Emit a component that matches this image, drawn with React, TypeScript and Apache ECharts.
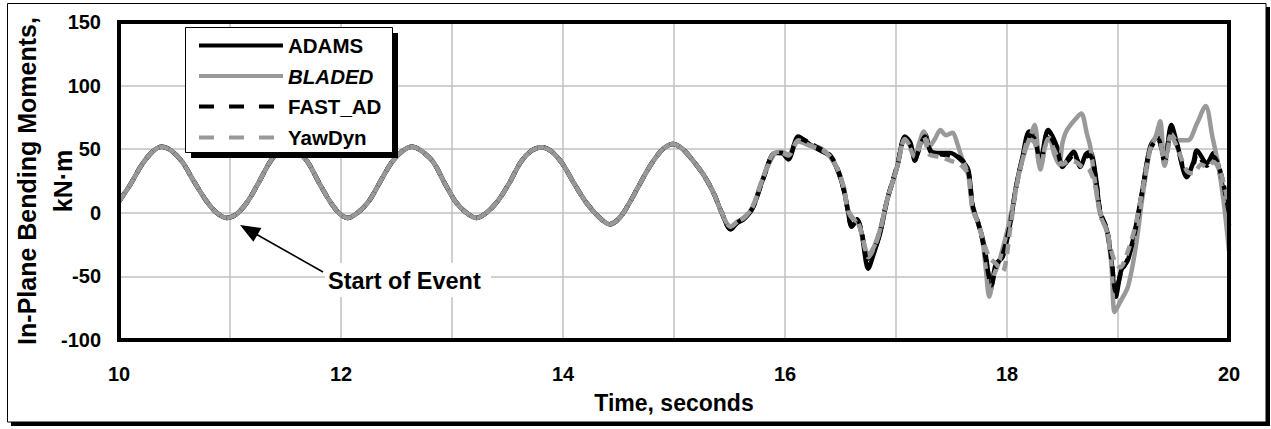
import React, { useEffect, useRef } from "react";
import * as echarts from "echarts";

const FONT = '"Liberation Sans", Arial, Helvetica, sans-serif';

const X_MIN = 10;
const X_MAX = 20;
const X_STEP = 1;
const X_LABELS = [10, 12, 14, 16, 18, 20];
const Y_MIN = -100;
const Y_MAX = 150;
const Y_STEP = 50;

const SERIES_NAMES = ["ADAMS", "BLADED", "FAST_AD", "YawDyn"];
const X_TITLE = "Time, seconds";
const Y_TITLE = "In-Plane Bending Moments,\nkN·m";
const NOTE = "Start of Event";

// Part of the record where all four codes agree (t in s, moment in kN·m)
const COMMON_START: [number, number][] = [
  [10.0, 9], [10.1, 22], [10.2, 37], [10.3, 48], [10.385, 52], [10.47, 49],
  [10.57, 40], [10.68, 24], [10.79, 9], [10.88, 0], [10.97, -4], [11.06, -1],
  [11.16, 9], [11.26, 24], [11.36, 40], [11.45, 49], [11.52, 52], [11.6, 49],
  [11.7, 40], [11.8, 24], [11.9, 9], [11.98, 0], [12.06, -4], [12.15, 0],
  [12.25, 9], [12.35, 24], [12.46, 40], [12.56, 49], [12.64, 52], [12.72, 49],
  [12.83, 40], [12.93, 24], [13.03, 9], [13.13, 0], [13.22, -4], [13.31, 0],
  [13.41, 9], [13.52, 24], [13.62, 40], [13.72, 49], [13.81, 51.5], [13.9, 48],
  [14.0, 38], [14.1, 23], [14.21, 8], [14.32, -3], [14.42, -9], [14.51, -4],
  [14.6, 8], [14.7, 24], [14.8, 39], [14.9, 50], [14.99, 54], [15.08, 50],
  [15.18, 40], [15.28, 28], [15.36, 15],
];

const ADAMS_TAIL: [number, number][] = [
  [15.43, 0], [15.51, -13], [15.57, -8], [15.63, -5], [15.71, 4], [15.8, 26],
  [15.91, 47], [15.97, 47], [16.03, 42], [16.12, 60], [16.22, 54], [16.32, 49],
  [16.41, 44], [16.48, 32], [16.53, 18], [16.57, 0], [16.6, -11], [16.65, -6],
  [16.69, -16], [16.75, -44], [16.8, -32], [16.86, -15], [16.92, 10], [17.01, 36],
  [17.08, 60], [17.13, 55], [17.17, 41], [17.21, 52], [17.26, 62], [17.32, 48],
  [17.4, 47], [17.49, 47], [17.58, 42], [17.65, 34], [17.69, 5], [17.74, -8],
  [17.78, -20], [17.82, -40], [17.85, -61], [17.9, -40], [17.96, -35], [18.03, -8],
  [18.08, 20], [18.14, 44], [18.2, 64], [18.25, 60], [18.3, 41], [18.37, 65],
  [18.45, 52], [18.5, 36], [18.56, 44], [18.6, 48], [18.66, 36], [18.71, 46],
  [18.75, 48], [18.8, 28], [18.84, 0], [18.9, -14], [18.94, -37], [18.98, -66],
  [19.03, -45], [19.09, -37], [19.16, -11], [19.22, 18], [19.29, 52], [19.36, 60],
  [19.42, 41], [19.48, 69], [19.53, 55], [19.62, 28], [19.68, 40], [19.71, 49],
  [19.8, 39], [19.86, 47], [19.93, 26], [20.0, -10],
];

const BLADED_TAIL: [number, number][] = [
  [15.43, 0], [15.51, -11], [15.57, -7], [15.63, -4], [15.71, 5], [15.8, 27],
  [15.91, 47], [15.97, 48], [16.03, 46], [16.12, 56], [16.22, 53], [16.32, 51],
  [16.41, 44], [16.48, 33], [16.53, 20], [16.57, 2], [16.62, -5], [16.66, -8],
  [16.7, -20], [16.75, -33], [16.8, -27], [16.86, -12], [16.92, 10], [17.01, 36],
  [17.08, 58], [17.13, 52], [17.17, 45], [17.21, 55], [17.25, 64], [17.3, 52],
  [17.35, 58], [17.4, 65], [17.45, 61], [17.51, 63], [17.55, 55], [17.59, 44],
  [17.65, 30], [17.69, 3], [17.74, -8], [17.78, -22], [17.81, -45], [17.84, -66],
  [17.88, -50], [17.93, -38], [18.0, -15], [18.05, 5], [18.1, 28], [18.16, 48],
  [18.21, 60], [18.25, 69], [18.3, 34], [18.35, 55], [18.38, 59], [18.43, 45],
  [18.47, 38], [18.5, 55], [18.54, 65], [18.63, 75], [18.67, 78], [18.72, 62],
  [18.75, 52], [18.81, 13], [18.85, -3], [18.9, -15], [18.94, -40], [18.97, -78],
  [19.02, -70], [19.09, -58], [19.16, -27], [19.22, 12], [19.29, 50], [19.34, 60],
  [19.38, 72], [19.42, 37], [19.48, 62], [19.53, 57], [19.63, 57], [19.71, 70],
  [19.79, 84], [19.85, 60], [19.9, 39], [19.95, 10], [20.0, -30],
];

const FAST_AD_TAIL: [number, number][] = [
  [15.43, 0], [15.51, -13], [15.57, -8], [15.63, -4], [15.71, 4], [15.8, 26],
  [15.91, 47], [15.97, 47], [16.03, 43], [16.12, 59], [16.22, 55], [16.32, 50],
  [16.41, 45], [16.48, 33], [16.53, 18], [16.57, 0], [16.6, -10], [16.65, -5],
  [16.69, -15], [16.75, -40], [16.8, -31], [16.86, -14], [16.92, 10], [17.01, 37],
  [17.08, 59], [17.13, 53], [17.17, 42], [17.21, 50], [17.26, 60], [17.32, 47],
  [17.4, 46], [17.49, 45], [17.58, 43], [17.65, 33], [17.69, 6], [17.74, -8],
  [17.78, -22], [17.82, -42], [17.86, -57], [17.9, -42], [17.96, -33], [18.03, -8],
  [18.08, 19], [18.14, 43], [18.2, 61], [18.25, 58], [18.3, 40], [18.37, 62],
  [18.45, 50], [18.5, 37], [18.56, 42], [18.6, 46], [18.66, 38], [18.71, 44],
  [18.75, 45], [18.8, 27], [18.84, 1], [18.9, -13], [18.94, -35], [18.98, -62],
  [19.03, -46], [19.09, -36], [19.16, -12], [19.22, 17], [19.29, 50], [19.36, 58],
  [19.42, 40], [19.48, 66], [19.53, 54], [19.62, 30], [19.68, 38], [19.71, 46],
  [19.8, 37], [19.86, 44], [19.93, 30], [20.0, 0],
];

const YAWDYN_TAIL: [number, number][] = [
  [15.43, 0], [15.51, -11], [15.57, -7], [15.63, -4], [15.71, 5], [15.8, 27],
  [15.91, 47], [15.97, 47], [16.03, 45], [16.12, 57], [16.22, 53], [16.32, 50],
  [16.41, 44], [16.48, 33], [16.53, 19], [16.57, 1], [16.62, -6], [16.66, -8],
  [16.7, -20], [16.75, -35], [16.8, -28], [16.86, -13], [16.92, 10], [17.01, 36],
  [17.08, 58], [17.13, 50], [17.17, 44], [17.25, 60], [17.3, 46], [17.4, 44],
  [17.49, 41], [17.58, 38], [17.65, 30], [17.69, 3], [17.74, -8], [17.78, -20],
  [17.84, -35], [17.9, -40], [17.96, -46], [18.03, -12], [18.08, 18], [18.14, 42],
  [18.2, 58], [18.25, 55], [18.3, 36], [18.37, 58], [18.45, 45], [18.5, 38],
  [18.56, 41], [18.62, 40], [18.68, 36], [18.74, 34], [18.8, 20], [18.84, -2],
  [18.9, -14], [18.94, -30], [18.98, -40], [19.02, -43], [19.09, -30], [19.16, -9],
  [19.22, 18], [19.29, 50], [19.36, 62], [19.42, 38], [19.48, 60], [19.53, 52],
  [19.62, 33], [19.68, 31], [19.75, 38], [19.8, 36], [19.86, 40], [19.93, 30],
  [20.0, 5],
];

const SERIES_DATA = [
  COMMON_START.concat(ADAMS_TAIL),
  COMMON_START.concat(BLADED_TAIL),
  COMMON_START.concat(FAST_AD_TAIL),
  COMMON_START.concat(YAWDYN_TAIL),
];

const BLACK = "#000000";
const GRAY = "#999999";
const SERIES_COLORS = [BLACK, GRAY, BLACK, GRAY];
const SERIES_DASHED = [false, false, true, true];

export default function App() {
  const ref = useRef<HTMLDivElement>(null);

  useEffect(() => {
    if (!ref.current) return;
    const chart = echarts.init(ref.current, undefined, { renderer: "svg" });

    const bold = (size: number) => ({
      fontFamily: FONT,
      fontSize: size,
      fontWeight: "bold" as const,
      color: "#000",
    });

    chart.setOption({
      animation: false,
      backgroundColor: "#ffffff",
      grid: {
        left: 119,
        right: 42,
        top: 22,
        bottom: 89,
        show: false,
        outerBoundsMode: "none",
        containLabel: false,
      },
      xAxis: {
        type: "value",
        min: X_MIN,
        max: X_MAX,
        interval: X_STEP,
        axisLine: { show: false },
        axisTick: { show: false },
        splitLine: { show: true, lineStyle: { color: "#c0c0c0", width: 1.5 } },
        axisLabel: {
          ...bold(20),
          margin: 24,
          formatter: (v: number) => (X_LABELS.includes(v) ? String(v) : ""),
        },
        name: X_TITLE,
        nameLocation: "middle",
        nameGap: 51,
        nameMoveOverlap: false,
        nameTextStyle: { ...bold(23) },
      },
      yAxis: {
        type: "value",
        min: Y_MIN,
        max: Y_MAX,
        interval: Y_STEP,
        axisLine: { show: false },
        axisTick: { show: false },
        splitLine: { show: true, lineStyle: { color: "#c0c0c0", width: 1.5 } },
        axisLabel: { ...bold(20), margin: 18 },
        name: Y_TITLE,
        nameLocation: "middle",
        nameGap: 38,
        nameMoveOverlap: false,
        nameTextStyle: { ...bold(25), lineHeight: 36 },
      },
      legend: {
        orient: "vertical",
        left: 197,
        top: 35,
        itemWidth: 84,
        itemHeight: 14,
        itemGap: 10,
        padding: 0,
        selectedMode: false,
        z: 6,
        itemStyle: { opacity: 0 },
        textStyle: {
          ...bold(20.5),
          lineHeight: 20,
          rich: {
            i: { ...bold(20.5), fontStyle: "italic", lineHeight: 20 },
          },
        },
        formatter: (n: string) => (n === "BLADED" ? "{i|BLADED}" : n),
        data: SERIES_NAMES.map((name, i) => ({
          name,
          lineStyle: {
            width: 4,
            type: SERIES_DASHED[i] ? [15, 15] : "solid",
            color: SERIES_COLORS[i],
            opacity: 1,
          },
        })),
      },
      graphic: [
        // outer chart frame with shadow
        { type: "rect", shape: { x: 1266, y: 7, width: 4, height: 419 }, style: { fill: "#000" }, silent: true },
        { type: "rect", shape: { x: 11, y: 422, width: 1259, height: 4 }, style: { fill: "#000" }, silent: true },
        { type: "rect", shape: { x: 7.5, y: 3.5, width: 1258.5, height: 418.5 }, style: { fill: "none", stroke: "#000", lineWidth: 1 }, silent: true },
        // plot-area border
        { type: "rect", z: 4, shape: { x: 119, y: 22, width: 1110, height: 318 }, style: { fill: "none", stroke: "#000", lineWidth: 4 }, silent: true },
        // legend box with shadow
        { type: "rect", z: 5, z2: 0, shape: { x: 191, y: 33, width: 207, height: 125 }, style: { fill: "#000" }, silent: true },
        { type: "rect", z: 5, z2: 1, shape: { x: 185.5, y: 27.5, width: 207, height: 125 }, style: { fill: "#fff", stroke: "#000", lineWidth: 1 }, silent: true },
        // annotation
        { type: "rect", z: 5, shape: { x: 325, y: 263, width: 166, height: 34 }, style: { fill: "#fff" }, silent: true },
        {
          type: "text", z: 5, z2: 2, x: 328, y: 281,
          style: { text: NOTE, fill: "#000", font: `bold 23.5px ${FONT}`, align: "left", verticalAlign: "middle" },
          silent: true,
        },
        { type: "line", z: 5, shape: { x1: 323, y1: 272, x2: 255, y2: 233.5 }, style: { stroke: "#000", lineWidth: 1.6 }, silent: true },
        { type: "polygon", z: 5, shape: { points: [[240, 225], [261.4, 228], [253.4, 241.8]] }, style: { fill: "#000" }, silent: true },
      ],
      series: SERIES_NAMES.map((name, i) => ({
        name,
        type: "line",
        data: SERIES_DATA[i],
        symbol: "none",
        showSymbol: false,
        smooth: 0.3,
        silent: true,
        lineStyle: {
          color: SERIES_COLORS[i],
          width: 4.5,
          type: SERIES_DASHED[i] ? [10, 7] : "solid",
        },
        itemStyle: { color: SERIES_COLORS[i] },
        emphasis: { disabled: true },
      })),
    });

    return () => chart.dispose();
  }, []);

  return (
    <div
      ref={ref}
      style={{ position: "fixed", left: 0, top: 0, width: 1271, height: 429, background: "#fff" }}
    />
  );
}
